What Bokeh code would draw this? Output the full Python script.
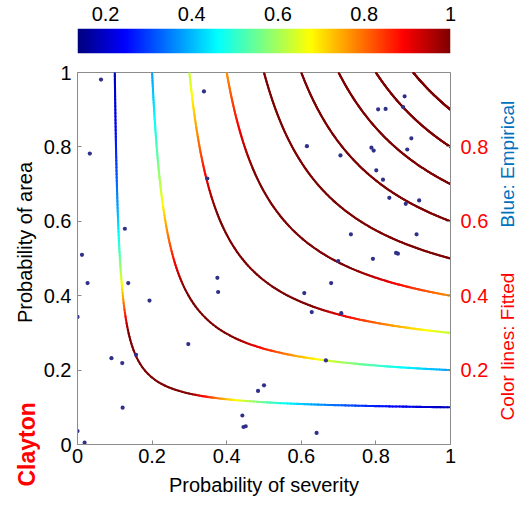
import numpy as np
from bokeh.plotting import figure
from bokeh.models import (ColumnDataSource, Range1d, LinearAxis, FixedTicker,
                          LinearColorMapper, CustomJSTickFormatter)
from bokeh.core.properties import value
from bokeh.layouts import column, row
from bokeh.embed import file_html
from bokeh.resources import INLINE

# ---- data ----
theta = 0.9                      # fitted Clayton parameter
levels = [0.1, 0.2, 0.3, 0.4, 0.5, 0.6, 0.7, 0.8, 0.9]
level_color_gain = [0.78, 0.85, 0.97, 0.92, 1.0, 1.0, 1.0, 1.0, 1.0]
cbar_low = 0.135
cbar_high = 1.0
cbar_ticks = [0.2, 0.4, 0.6, 0.8, 1.0]
axis_ticks = [0, 0.2, 0.4, 0.6, 0.8, 1.0]
right_ticks = [0.2, 0.4, 0.6, 0.8]

emp_severity = [0.063, 0.339, 0.033, 0.348, 0.127, 0.012, 0.027, 0.136, 0.375, 0.377,
                0.193, 0.000, 0.297, 0.157, 0.091, 0.120, 0.121, 0.484, 0.500, 0.442,
                0.445, 0.451, 0.000, 0.019, 0.641, 0.666, 0.608, 0.680, 0.628, 0.707,
                0.699, 0.792, 0.854, 0.859, 0.877, 0.806, 0.826, 0.873, 0.615, 0.705,
                0.788, 0.794, 0.895, 0.884, 0.801, 0.819, 0.836, 0.880, 0.916, 0.733,
                0.909]
emp_area = [0.981, 0.949, 0.782, 0.715, 0.580, 0.510, 0.434, 0.434, 0.448, 0.410,
            0.387, 0.343, 0.270, 0.241, 0.232, 0.219, 0.099, 0.144, 0.159, 0.078,
            0.047, 0.049, 0.036, 0.005, 0.031, 0.226, 0.407, 0.434, 0.356, 0.353,
            0.493, 0.499, 0.515, 0.513, 0.936, 0.901, 0.902, 0.907, 0.802, 0.777,
            0.798, 0.790, 0.823, 0.793, 0.737, 0.712, 0.663, 0.647, 0.656, 0.565,
            0.565]

x_title = "Probability of severity"
y_title = "Probability of area"
right_title_red = "Color lines: Fitted"
right_title_blue = "Blue: Empirical"
model_name = "Clayton"

FONT = "Liberation Sans"
TICK_FMT = "return (Math.round(tick*10)/10).toString();"


def jet(x):
    r = min(max(1.5 - abs(4 * x - 3), 0), 1)
    g = min(max(1.5 - abs(4 * x - 2), 0), 1)
    b = min(max(1.5 - abs(4 * x - 1), 0), 1)
    return "#%02x%02x%02x" % (int(r * 255), int(g * 255), int(b * 255))


palette = [jet(i / 255) for i in range(256)]


def clayton_v(u, c, th):
    return (c ** -th - u ** -th + 1) ** (-1 / th)


def clayton_pdf(u, v, th):
    return (1 + th) * (u * v) ** (-th - 1) * (u ** -th + v ** -th - 1) ** (-2 - 1 / th)


# ---- contour segments of the fitted copula, coloured by density ----
x0, y0, x1, y1, cols = [], [], [], [], []
for c, gain in zip(levels, level_color_gain):
    d = ((c ** -theta + 1) / 2) ** (-1 / theta)
    u_low = np.linspace(d, 1.0, 90)
    v_low = clayton_v(u_low, c, theta)
    xs = np.concatenate([v_low[::-1][:-1], u_low])
    ys = np.concatenate([u_low[::-1][:-1], v_low])
    for i in range(len(xs) - 1):
        mx, my = (xs[i] + xs[i + 1]) / 2, (ys[i] + ys[i + 1]) / 2
        dens = clayton_pdf(mx, my, theta) * gain
        t = min(max((dens - cbar_low) / (cbar_high - cbar_low), 0), 1)
        x0.append(xs[i]); y0.append(ys[i]); x1.append(xs[i + 1]); y1.append(ys[i + 1])
        cols.append(palette[int(round(t * 255))])

seg_src = ColumnDataSource(dict(x0=x0, y0=y0, x1=x1, y1=y1, color=cols))

LEFT_W = 40
RIGHT_W = 30
MID_W = 523 - LEFT_W - RIGHT_W


def blank_fig(w, h, xr, yr):
    f = figure(width=w, height=h, x_range=xr, y_range=yr, output_backend="svg",
               toolbar_location=None, x_axis_location=None, y_axis_location=None,
               min_border=0, min_border_left=0, min_border_right=0,
               min_border_top=0, min_border_bottom=0)
    f.xgrid.visible = False
    f.ygrid.visible = False
    f.outline_line_color = None
    return f


# ---- colour bar figure ----
cb = figure(width=MID_W, height=60, x_range=Range1d(cbar_low, cbar_high), y_range=Range1d(0, 1),
            output_backend="svg", toolbar_location=None, x_axis_location="above",
            y_axis_location=None, min_border_left=75 - LEFT_W, min_border_right=MID_W + LEFT_W - 450,
            min_border_top=28, min_border_bottom=7)
cb.image(image=[np.linspace(cbar_low, cbar_high, 256).reshape(1, -1)], x=cbar_low, y=0,
         dw=cbar_high - cbar_low, dh=1,
         color_mapper=LinearColorMapper(palette=palette, low=cbar_low, high=cbar_high))
cb.xaxis.ticker = FixedTicker(ticks=cbar_ticks)
cb.xaxis.formatter = CustomJSTickFormatter(code=TICK_FMT)
cb.xaxis.major_tick_line_color = None
cb.xaxis.minor_tick_line_color = None
cb.xaxis.axis_line_color = None
cb.xaxis.major_label_standoff = 2
cb.xaxis.major_label_text_font = FONT
cb.xaxis.major_label_text_font_size = "20px"
cb.xaxis.major_label_text_color = "black"
cb.xgrid.visible = False
cb.ygrid.visible = False
cb.outline_line_color = None

# ---- main figure ----
p = figure(width=MID_W, height=448, x_range=Range1d(0, 1), y_range=Range1d(0, 1),
           output_backend="svg", toolbar_location=None,
           min_border_left=77 - LEFT_W, min_border_right=MID_W + LEFT_W - 450,
           min_border_top=12, min_border_bottom=64)
p.xgrid.visible = False
p.ygrid.visible = False
p.outline_line_color = "#8c8c8c"

p.segment(x0="x0", y0="y0", x1="x1", y1="y1", line_color="color", line_width=2.1,
          line_cap="round", source=seg_src)
p.scatter(emp_severity, emp_area, size=4.2, color="#30308a", line_color=None)

for ax in (p.xaxis[0], p.yaxis[0]):
    ax.ticker = FixedTicker(ticks=axis_ticks)
    ax.formatter = CustomJSTickFormatter(code=TICK_FMT)
    ax.major_tick_in = 4
    ax.major_tick_out = 0
    ax.minor_tick_line_color = None
    ax.major_tick_line_color = "#8c8c8c"
    ax.axis_line_color = "#8c8c8c"
    ax.major_label_text_font = FONT
    ax.major_label_text_font_size = "20px"
    ax.major_label_text_color = "black"

p.xaxis.axis_label = x_title
p.xaxis.axis_label_text_font = FONT
p.xaxis.axis_label_text_font_size = "20px"
p.xaxis.axis_label_text_font_style = "normal"
p.xaxis.axis_label_text_color = "black"
p.xaxis.major_label_standoff = 4
p.xaxis.axis_label_standoff = 8
p.yaxis.major_label_standoff = 6

rax = LinearAxis(ticker=FixedTicker(ticks=right_ticks),
                 formatter=CustomJSTickFormatter(code=TICK_FMT))
rax.major_tick_in = 4
rax.major_tick_out = 0
rax.minor_tick_line_color = None
rax.major_tick_line_color = "#8c8c8c"
rax.axis_line_color = "#8c8c8c"
rax.major_label_standoff = 10
rax.major_label_text_font = FONT
rax.major_label_text_font_size = "20px"
rax.major_label_text_color = "#ff0000"
p.add_layout(rax, "right")

# ---- side panels with vertical texts (pixel coordinates, y downward) ----
left = blank_fig(LEFT_W, 508, Range1d(0, LEFT_W), Range1d(508, 0))
left.text(x=[24], y=[242], text=[y_title], angle=np.pi / 2, text_align="center",
          text_baseline="middle", text_font=value(FONT), text_font_size="20px",
          text_color="black")
left.text(x=[26], y=[486], text=[model_name], angle=np.pi / 2, text_align="left",
          text_baseline="middle", text_font=value(FONT), text_font_size="23px",
          text_font_style="bold", text_color="#ff0000")

right = blank_fig(RIGHT_W, 508, Range1d(0, RIGHT_W), Range1d(508, 0))
right.text(x=[14], y=[420], text=[right_title_red], angle=np.pi / 2, text_align="left",
           text_baseline="middle", text_font=value(FONT), text_font_size="19px",
           text_color="#ff0000")
right.text(x=[14], y=[227], text=[right_title_blue], angle=np.pi / 2, text_align="left",
           text_baseline="middle", text_font=value(FONT), text_font_size="19px",
           text_color="#0072BD")

layout = row(left, column(cb, p, spacing=0), right, spacing=0)
open("out.html", "w").write(file_html(layout, INLINE))
